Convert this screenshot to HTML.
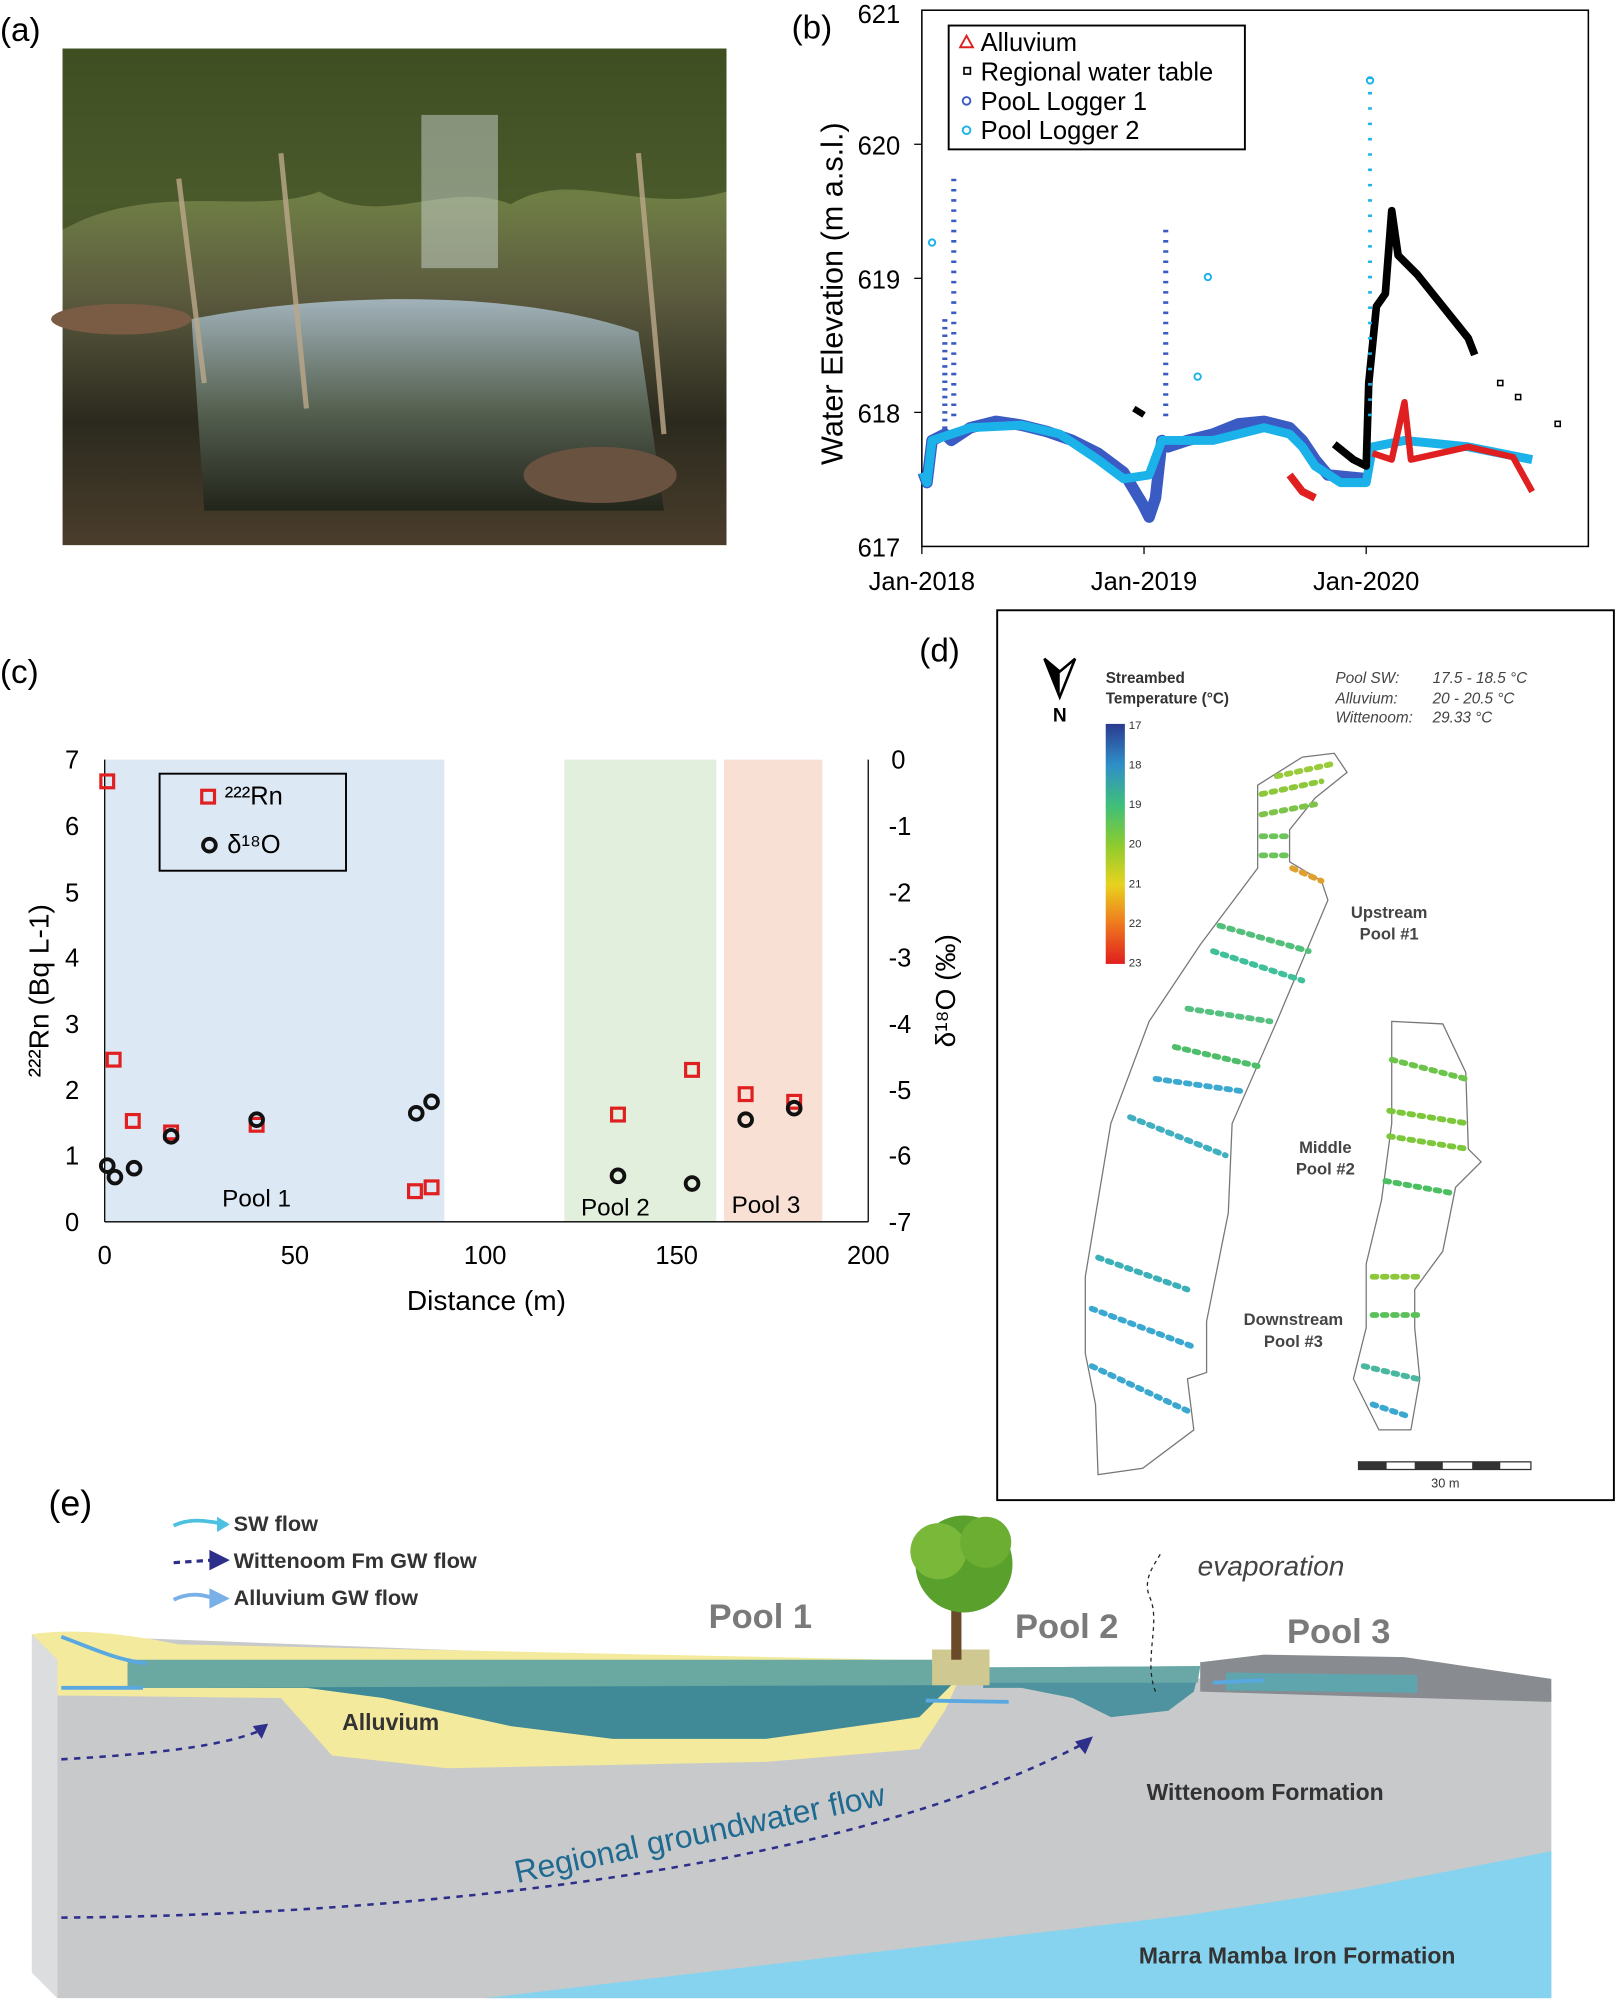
<!DOCTYPE html>
<html><head><meta charset="utf-8"><style>
html,body{margin:0;padding:0;background:#fff;}
svg{display:block;}
text{font-family:"Liberation Sans",sans-serif;}
</style></head><body>
<svg width="1619" height="2007" viewBox="0 0 1268 1572" preserveAspectRatio="none" xmlns="http://www.w3.org/2000/svg">
<defs>
<linearGradient id="ph" x1="0" y1="0" x2="0" y2="1">
<stop offset="0" stop-color="#4a5a2a"/><stop offset="0.3" stop-color="#6f7e45"/><stop offset="0.5" stop-color="#5b5a3e"/><stop offset="0.75" stop-color="#2b2a1e"/><stop offset="1" stop-color="#4a3d2c"/></linearGradient>
<linearGradient id="wat" x1="0" y1="0" x2="0" y2="1"><stop offset="0" stop-color="#a9bcc8"/><stop offset="0.5" stop-color="#5d6a5a"/><stop offset="1" stop-color="#1e2218"/></linearGradient>
<linearGradient id="scale" x1="0" y1="0" x2="0" y2="1">
<stop offset="0" stop-color="#2b3a8f"/><stop offset="0.17" stop-color="#2f8fc8"/><stop offset="0.34" stop-color="#3fbf7a"/><stop offset="0.5" stop-color="#8acb2f"/><stop offset="0.67" stop-color="#e8d21e"/><stop offset="0.83" stop-color="#ee7a1e"/><stop offset="1" stop-color="#e01e1e"/></linearGradient>
</defs>
<!-- (a) -->
<text x="0" y="32" font-size="26">(a)</text>
<rect x="49" y="38" width="520" height="389" fill="url(#ph)"/>
<path d="M49,38 L569,38 L569,150 C500,170 450,130 400,160 C350,140 300,180 250,150 C200,170 120,140 49,180 Z" fill="#3a4a20" opacity="0.7"/>
<path d="M150,250 C250,230 400,225 500,260 L520,400 L160,400 Z" fill="url(#wat)" opacity="0.9"/>
<rect x="330" y="90" width="60" height="120" fill="#c9d4cf" opacity="0.5"/>
<ellipse cx="470" cy="372" rx="60" ry="22" fill="#6a5240"/>
<ellipse cx="95" cy="250" rx="55" ry="12" fill="#7a5c44"/>
<g stroke="#bca88a" stroke-width="4" opacity="0.8"><line x1="240" y1="320" x2="220" y2="120"/><line x1="520" y1="340" x2="500" y2="120"/><line x1="160" y1="300" x2="140" y2="140"/></g>

<!-- (b) -->
<text x="620" y="30" font-size="26">(b)</text>
<rect x="722" y="8" width="522" height="420" fill="none" stroke="#000" stroke-width="1.2"/>
<g font-size="20" text-anchor="end">
<text x="705" y="18">621</text><text x="705" y="121">620</text><text x="705" y="226">619</text><text x="705" y="331">618</text><text x="705" y="436">617</text></g>
<g stroke="#000"><line x1="716" y1="113" x2="722" y2="113"/><line x1="716" y1="218" x2="722" y2="218"/><line x1="716" y1="323" x2="722" y2="323"/><line x1="722" y1="428" x2="722" y2="434"/><line x1="896" y1="428" x2="896" y2="434"/><line x1="1070" y1="428" x2="1070" y2="434"/></g>
<g font-size="20" text-anchor="middle"><text x="722" y="462">Jan-2018</text><text x="896" y="462">Jan-2019</text><text x="1070" y="462">Jan-2020</text></g>
<text transform="translate(660,230) rotate(-90)" font-size="24" text-anchor="middle">Water Elevation (m a.s.l.)</text>
<g fill="none" stroke-linejoin="round">
<polyline points="723,370 726,378 730,345 740,340 745,345 760,335 780,330 800,333 820,338 840,345 860,355 880,370 895,395 900,405 905,390 910,345 915,350 930,345 950,340 970,332 990,330 1010,335 1020,345 1030,360 1040,372 1070,375" stroke="#3a5bc4" stroke-width="9"/>
<polyline points="723,370 726,378 730,345 760,335 800,333 830,340 860,360 880,375 900,372 910,345 930,345 950,345 970,340 990,335 1010,340 1020,350 1030,365 1050,378 1070,378 1075,350 1100,345 1150,350 1200,360" stroke="#1ab2e8" stroke-width="7"/>
<polyline points="1010,372 1020,385 1030,390" stroke="#e02020" stroke-width="6"/>
<polyline points="1075,355 1090,360 1100,315 1105,360 1150,350 1185,358 1200,385" stroke="#e02020" stroke-width="5"/>
<polyline points="1045,348 1060,360 1070,365 1072,300 1078,240 1085,230 1090,165 1095,200 1110,215 1130,240 1150,265 1155,278" stroke="#000" stroke-width="6"/>
<polyline points="888,320 896,325" stroke="#000" stroke-width="5"/>
<line x1="740" y1="250" x2="740" y2="340" stroke="#3a5bc4" stroke-width="4" stroke-dasharray="2 4"/>
<line x1="747" y1="140" x2="747" y2="330" stroke="#3a5bc4" stroke-width="4" stroke-dasharray="2 6"/>
<line x1="913" y1="180" x2="913" y2="330" stroke="#3a5bc4" stroke-width="4" stroke-dasharray="2 6"/>
<line x1="1073" y1="60" x2="1073" y2="330" stroke="#1ab2e8" stroke-width="3" stroke-dasharray="2 10"/>
</g>
<g fill="none" stroke="#1ab2e8" stroke-width="1.5"><circle cx="730" cy="190" r="2.5"/><circle cx="946" cy="217" r="2.5"/><circle cx="938" cy="295" r="2.5"/><circle cx="1073" cy="63" r="2.5"/></g>
<g fill="none" stroke="#000" stroke-width="1.2"><rect x="1173" y="298" width="4" height="4"/><rect x="1187" y="309" width="4" height="4"/><rect x="1218" y="330" width="4" height="4"/></g>
<rect x="743" y="20" width="232" height="97" fill="#fff" stroke="#000" stroke-width="1.5"/>
<g font-size="20"><text x="768" y="40">Alluvium</text><text x="768" y="63">Regional water table</text><text x="768" y="86">PooL Logger 1</text><text x="768" y="109">Pool Logger 2</text></g>
<polygon points="757,28 752,37 762,37" fill="none" stroke="#e02020" stroke-width="1.5"/>
<rect x="755" y="53" width="5" height="5" fill="none" stroke="#000" stroke-width="1.3"/>
<circle cx="757" cy="79" r="3" fill="none" stroke="#3a5bc4" stroke-width="1.5"/>
<circle cx="757" cy="102" r="3" fill="none" stroke="#1ab2e8" stroke-width="1.5"/>

<!-- (c) -->
<text x="0" y="535" font-size="26">(c)</text>
<rect x="82" y="595" width="266" height="362" fill="#dce8f4"/>
<rect x="442" y="595" width="119" height="362" fill="#e2efdc"/>
<rect x="567" y="595" width="77" height="362" fill="#f8e1d4"/>
<line x1="82" y1="595" x2="82" y2="957" stroke="#000"/>
<line x1="82" y1="957" x2="680" y2="957" stroke="#000"/>
<line x1="680" y1="595" x2="680" y2="957" stroke="#000"/>
<g font-size="20" text-anchor="end"><text x="62" y="602">7</text><text x="62" y="654">6</text><text x="62" y="706">5</text><text x="62" y="757">4</text><text x="62" y="809">3</text><text x="62" y="861">2</text><text x="62" y="912">1</text><text x="62" y="964">0</text></g>
<g font-size="20"><text x="698" y="602">0</text><text x="696" y="654">-1</text><text x="696" y="706">-2</text><text x="696" y="757">-3</text><text x="696" y="809">-4</text><text x="696" y="861">-5</text><text x="696" y="912">-6</text><text x="696" y="964">-7</text></g>
<g font-size="20" text-anchor="middle"><text x="82" y="990">0</text><text x="231" y="990">50</text><text x="380" y="990">100</text><text x="530" y="990">150</text><text x="680" y="990">200</text><text x="381" y="1026" font-size="22">Distance (m)</text></g>
<text transform="translate(38,776) rotate(-90)" font-size="22" text-anchor="middle" font-family="Liberation Serif">²²²Rn (Bq L-1)</text>
<text transform="translate(748,776) rotate(-90)" font-size="22" text-anchor="middle" font-family="Liberation Serif">δ¹⁸O (‰)</text>
<g font-size="19"><text x="174" y="945">Pool 1</text><text x="455" y="952">Pool 2</text><text x="573" y="950">Pool 3</text></g>
<g fill="none" stroke="#e02020" stroke-width="2.5">
<rect x="79" y="607" width="10" height="10"/><rect x="84" y="825" width="10" height="10"/><rect x="99" y="873" width="10" height="10"/><rect x="129" y="882" width="10" height="10"/><rect x="196" y="876" width="10" height="10"/><rect x="320" y="928" width="10" height="10"/><rect x="333" y="925" width="10" height="10"/><rect x="479" y="868" width="10" height="10"/><rect x="537" y="833" width="10" height="10"/><rect x="579" y="852" width="10" height="10"/><rect x="617" y="858" width="10" height="10"/></g>
<g fill="none" stroke="#111" stroke-width="3">
<circle cx="84" cy="913" r="5"/><circle cx="90" cy="922" r="5"/><circle cx="105" cy="915" r="5"/><circle cx="134" cy="890" r="5"/><circle cx="201" cy="877" r="5"/><circle cx="326" cy="872" r="5"/><circle cx="338" cy="863" r="5"/><circle cx="484" cy="921" r="5"/><circle cx="542" cy="927" r="5"/><circle cx="584" cy="877" r="5"/><circle cx="622" cy="868" r="5"/></g>
<rect x="125" y="606" width="146" height="76" fill="none" stroke="#000" stroke-width="1.5"/>
<rect x="158" y="619" width="10" height="10" fill="none" stroke="#e02020" stroke-width="2.5"/>
<circle cx="164" cy="662" r="5" fill="none" stroke="#111" stroke-width="3"/>
<text x="176" y="630" font-size="20">²²²Rn</text>
<text x="178" y="668" font-size="20">δ¹⁸O</text>

<!-- (d) -->
<text x="720" y="518" font-size="26">(d)</text>
<rect x="781" y="478" width="483" height="697" fill="#fff" stroke="#000" stroke-width="1.5"/>
<polygon points="818,516 830,546 842,516 830,526" fill="#fff" stroke="#000" stroke-width="2"/>
<polygon points="818,516 830,546 830,526" fill="#000"/>
<text x="830" y="565" font-size="15" font-weight="bold" text-anchor="middle">N</text>
<g font-size="12" font-weight="bold" fill="#333"><text x="866" y="535">Streambed</text><text x="866" y="551">Temperature (°C)</text></g>
<rect x="866" y="567" width="15" height="188" fill="url(#scale)"/>
<g font-size="9" fill="#333"><text x="884" y="571">17</text><text x="884" y="602">18</text><text x="884" y="633">19</text><text x="884" y="664">20</text><text x="884" y="695">21</text><text x="884" y="726">22</text><text x="884" y="757">23</text></g>
<g font-size="12" font-style="italic" fill="#444"><text x="1046" y="535">Pool SW:</text><text x="1046" y="551">Alluvium:</text><text x="1046" y="566">Wittenoom:</text><text x="1122" y="535">17.5 - 18.5 °C</text><text x="1122" y="551">20 - 20.5 °C</text><text x="1122" y="566">29.33 °C</text></g>
<path d="M985,615 L1020,593 L1045,590 L1055,605 L1030,625 L1010,650 L1010,675 L1035,690 L1040,705 L1000,800 L965,880 L962,950 L945,1035 L945,1075 L930,1080 L935,1120 L895,1150 L860,1155 L858,1100 L850,1060 L850,1000 L870,880 L900,800 L940,740 L985,680 Z" fill="#fff" stroke="#777" stroke-width="1"/>
<path d="M1090,800 L1130,802 L1148,840 L1150,900 L1160,910 L1140,930 L1130,980 L1108,1010 L1108,1040 L1112,1080 L1105,1120 L1080,1120 L1060,1080 L1070,1040 L1070,990 L1082,940 L1090,880 Z" fill="#fff" stroke="#777" stroke-width="1"/>
<g stroke-dasharray="3 5" stroke-linecap="round" stroke-width="4.5" fill="none">
<line x1="1000" y1="608" x2="1045" y2="598" stroke="#9acb3a"/>
<line x1="988" y1="622" x2="1035" y2="612" stroke="#8cc83a"/>
<line x1="988" y1="638" x2="1030" y2="630" stroke="#7cc44a"/>
<line x1="988" y1="655" x2="1010" y2="655" stroke="#6cc45a"/>
<line x1="988" y1="670" x2="1010" y2="670" stroke="#6cc45a"/>
<line x1="1012" y1="680" x2="1035" y2="690" stroke="#e0a030"/>
<line x1="955" y1="725" x2="1025" y2="745" stroke="#52c07a"/>
<line x1="950" y1="745" x2="1020" y2="768" stroke="#3fbf9a"/>
<line x1="930" y1="790" x2="995" y2="800" stroke="#55c080"/>
<line x1="920" y1="820" x2="985" y2="835" stroke="#4fbe6a"/>
<line x1="905" y1="845" x2="975" y2="855" stroke="#3caad0"/>
<line x1="885" y1="875" x2="960" y2="905" stroke="#40b0c0"/>
<line x1="860" y1="985" x2="930" y2="1010" stroke="#3cb0b8"/>
<line x1="855" y1="1025" x2="935" y2="1055" stroke="#3aa8d0"/>
<line x1="855" y1="1070" x2="930" y2="1105" stroke="#3aa8d0"/>
<line x1="1090" y1="830" x2="1148" y2="845" stroke="#6cc44a"/>
<line x1="1088" y1="870" x2="1150" y2="880" stroke="#7cc83a"/>
<line x1="1088" y1="890" x2="1150" y2="900" stroke="#7cc83a"/>
<line x1="1085" y1="925" x2="1140" y2="935" stroke="#4cbf60"/>
<line x1="1075" y1="1000" x2="1110" y2="1000" stroke="#8cc83a"/>
<line x1="1075" y1="1030" x2="1110" y2="1030" stroke="#5cc05a"/>
<line x1="1068" y1="1070" x2="1110" y2="1080" stroke="#4ab8a0"/>
<line x1="1075" y1="1100" x2="1105" y2="1110" stroke="#3aa8d0"/>
</g>
<g font-size="13" font-weight="bold" fill="#444" text-anchor="middle"><text x="1088" y="719">Upstream</text><text x="1088" y="736">Pool #1</text><text x="1038" y="903">Middle</text><text x="1038" y="920">Pool #2</text><text x="1013" y="1038">Downstream</text><text x="1013" y="1055">Pool #3</text></g>
<rect x="1064" y="1145" width="135" height="6" fill="#fff" stroke="#333"/>
<g fill="#333"><rect x="1064" y="1145" width="22" height="6"/><rect x="1108" y="1145" width="22" height="6"/><rect x="1153" y="1145" width="22" height="6"/></g>
<text x="1132" y="1165" font-size="10" text-anchor="middle" fill="#333">30 m</text>

<!-- (e) -->
<text x="38" y="1187" font-size="28">(e)</text>
<polygon points="25,1280 1215,1325 1215,1565 45,1565 25,1545" fill="#c8c9cb"/>
<polygon points="25,1280 45,1300 45,1565 25,1545" fill="#dcdddf"/>
<polygon points="1215,1450 1060,1480 930,1500 380,1565 1215,1565" fill="#86d3ef"/>
<path d="M25,1280 C60,1275 100,1280 140,1288 L700,1300 L740,1300 L750,1318 L740,1340 L720,1370 L600,1380 L350,1385 L260,1375 L220,1330 L45,1328 L45,1300 Z" fill="#f3ea9e"/>
<path d="M100,1303 L735,1303 L745,1320 L720,1345 L600,1362 L480,1362 L400,1352 L300,1330 L240,1322 L100,1322 Z" fill="#3f8a96"/>
<path d="M100,1300 L730,1300 L730,1320 L100,1322 Z" fill="#6aa8a2"/>
<path d="M770,1306 L940,1305 L935,1325 L915,1340 L870,1345 L840,1330 L800,1322 L770,1322 Z" fill="#4f93a0"/>
<path d="M770,1306 L940,1305 L938,1318 L770,1318 Z" fill="#6aa8a8"/>
<path d="M940,1302 L990,1296 L1100,1298 L1215,1315 L1215,1333 L1110,1330 L940,1325 Z" fill="#888b8f"/>
<path d="M960,1310 L1110,1312 L1110,1326 L960,1324 Z" fill="#5ea5ad"/>
<rect x="730" y="1292" width="45" height="28" fill="#cfc890"/>
<rect x="745" y="1245" width="8" height="55" fill="#6b4a2a"/>
<circle cx="755" cy="1225" r="38" fill="#5aa02c"/><circle cx="735" cy="1215" r="22" fill="#7ab83a"/><circle cx="772" cy="1208" r="20" fill="#6cae32"/>
<g font-size="27" font-weight="bold" fill="#7a7a7a"><text x="555" y="1275">Pool 1</text><text x="795" y="1283">Pool 2</text><text x="1008" y="1287">Pool 3</text></g>
<text x="938" y="1234" font-size="22" font-style="italic" fill="#444">evaporation</text>
<path d="M905,1325 C895,1300 910,1270 900,1250 C895,1235 905,1225 910,1215" fill="none" stroke="#222" stroke-dasharray="3 3"/>
<g font-size="18" font-weight="bold" fill="#333"><text x="268" y="1355">Alluvium</text><text x="898" y="1410">Wittenoom Formation</text><text x="892" y="1538">Marra Mamba Iron Formation</text></g>
<text transform="translate(405,1475) rotate(-12)" font-size="25" fill="#1f6a90">Regional groundwater flow</text>
<g fill="none" stroke="#2e2f8a" stroke-width="2" stroke-dasharray="5 5">
<path d="M48,1378 C100,1375 170,1370 205,1355"/>
<path d="M48,1502 C300,1500 650,1470 850,1365"/>
</g>
<polygon points="210,1350 198,1352 205,1362" fill="#2e2f8a"/>
<polygon points="856,1360 842,1364 850,1374" fill="#2e2f8a"/>
<g fill="none" stroke="#5aa8e0" stroke-width="3"><path d="M48,1282 C70,1290 90,1300 115,1303"/><path d="M48,1322 L112,1322"/><path d="M725,1332 L790,1333"/><path d="M950,1318 L990,1316"/></g>
<g font-size="17" font-weight="bold" fill="#333"><text x="183" y="1199">SW flow</text><text x="183" y="1228">Wittenoom Fm GW flow</text><text x="183" y="1257">Alluvium GW flow</text></g>
<path d="M136,1195 C150,1188 165,1192 178,1194" fill="none" stroke="#4cc0e0" stroke-width="3"/>
<polygon points="180,1194 170,1188 170,1200" fill="#4cc0e0"/>
<line x1="136" y1="1224" x2="166" y2="1222" stroke="#2e2f8a" stroke-width="2.5" stroke-dasharray="5 4"/>
<polygon points="180,1222 164,1214 164,1230" fill="#2e2f8a"/>
<path d="M136,1253 C150,1246 162,1250 168,1252" fill="none" stroke="#7ab0e8" stroke-width="3"/>
<polygon points="180,1252 164,1244 164,1260" fill="#7ab0e8"/>
</svg>
</body></html>
